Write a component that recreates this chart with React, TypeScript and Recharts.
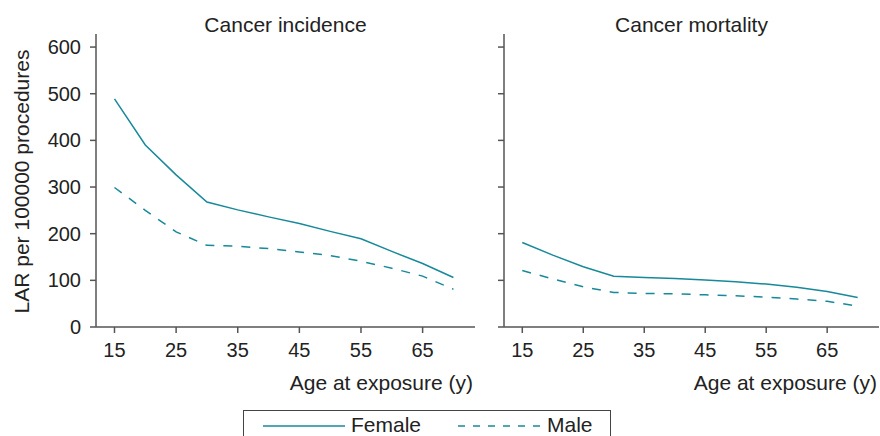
import { LineChart, Line, XAxis, YAxis } from "recharts"

const ages = [15, 20, 25, 30, 35, 40, 45, 50, 55, 60, 65, 70]
const femaleIncidence = [489, 390, 326, 268, 251, 236, 222, 205, 189, 162, 136, 106]
const maleIncidence = [299, 250, 204, 175, 173, 168, 161, 153, 141, 126, 109, 81]
const femaleMortality = [181, 154, 129, 109, 106, 104, 101, 97, 92, 85, 76, 63]
const maleMortality = [121, 103, 86, 74, 72, 71, 69, 67, 64, 60, 55, 45]

const xTicks = [15, 25, 35, 45, 55, 65]
const yTicks = [0, 100, 200, 300, 400, 500, 600]

const incidence = ages.map((age, i) => ({ age, female: femaleIncidence[i], male: maleIncidence[i] }))
const mortality = ages.map((age, i) => ({ age, female: femaleMortality[i], male: maleMortality[i] }))

const TEAL = "#17899a"
const AXIS = "#555"
const TEXT = "#222"
const FONT = '"Liberation Sans", Arial, Helvetica, sans-serif'

const tickStyle = { fontSize: 20, fill: TEXT, fontFamily: FONT }

function Panel({ data, width, yWidth, right, labelOffset, showYLabels }: {
  data: { age: number; female: number; male: number }[]
  width: number
  yWidth: number
  right: number
  labelOffset: number
  showYLabels: boolean
}) {
  return (
    <LineChart width={width} height={436} data={data} margin={{ top: 34, right, bottom: 44, left: 0 }}>
      <XAxis
        dataKey="age"
        type="number"
        domain={[12, 73.5]}
        ticks={xTicks}
        height={65}
        tickSize={6}
        tickMargin={10}
        tick={tickStyle}
        stroke={AXIS}
        strokeWidth={1.5}
        label={{
          value: "Age at exposure (y)",
          position: "insideBottomRight",
          offset: labelOffset,
          style: { fontSize: 21, fill: TEXT, fontFamily: FONT },
        }}
      />
      <YAxis
        type="number"
        domain={[0, 628]}
        ticks={yTicks}
        width={yWidth}
        tickSize={6}
        tickMargin={9}
        tick={tickStyle}
        tickFormatter={v => (showYLabels ? String(v) : "")}
        stroke={AXIS}
        strokeWidth={1.5}
      />
      <Line type="linear" dataKey="female" stroke={TEAL} strokeWidth={1.5} dot={false} isAnimationActive={false} />
      <Line
        type="linear"
        dataKey="male"
        stroke={TEAL}
        strokeWidth={1.5}
        strokeDasharray="9 9"
        dot={false}
        isAnimationActive={false}
      />
    </LineChart>
  )
}

const titleStyle = {
  position: "absolute" as const,
  top: 14,
  fontSize: 21,
  lineHeight: "21px",
  color: TEXT,
  textAlign: "center" as const,
}

export default function App() {
  return (
    <div
      style={{
        position: "absolute",
        left: 0,
        top: 0,
        width: 880,
        height: 436,
        overflow: "hidden",
        background: "#fff",
        fontFamily: FONT,
      }}
    >
      <div style={{ position: "absolute", left: 0, top: 0 }}>
        <Panel data={incidence} width={480} yWidth={96} right={5} labelOffset={2} showYLabels={true} />
      </div>
      <div style={{ position: "absolute", left: 480, top: 0 }}>
        <Panel data={mortality} width={404} yWidth={24} right={5} labelOffset={2} showYLabels={false} />
      </div>

      <div style={{ ...titleStyle, left: 96, width: 379 }}>Cancer incidence</div>
      <div style={{ ...titleStyle, left: 504, width: 375 }}>Cancer mortality</div>

      <div
        style={{
          position: "absolute",
          left: -129,
          top: 171,
          width: 300,
          fontSize: 21,
          lineHeight: "21px",
          color: TEXT,
          textAlign: "center",
          transform: "rotate(-90deg)",
          whiteSpace: "nowrap",
        }}
      >
        LAR per 100000 procedures
      </div>

      {/* legend box, runs off the bottom edge */}
      <div
        style={{
          position: "absolute",
          left: 243,
          top: 410,
          width: 366,
          height: 40,
          border: "1.5px solid #444",
        }}
      />
      <svg style={{ position: "absolute", left: 0, top: 0 }} width={880} height={436}>
        <line x1={263} y1={426} x2={345} y2={426} stroke={TEAL} strokeWidth={1.5} />
        <line x1={458} y1={426} x2={540} y2={426} stroke={TEAL} strokeWidth={1.5} strokeDasharray="7 8" />
      </svg>
      <div style={{ position: "absolute", left: 351, top: 414, fontSize: 21, lineHeight: "21px", color: TEXT }}>
        Female
      </div>
      <div style={{ position: "absolute", left: 547, top: 414, fontSize: 21, lineHeight: "21px", color: TEXT }}>
        Male
      </div>
    </div>
  )
}
